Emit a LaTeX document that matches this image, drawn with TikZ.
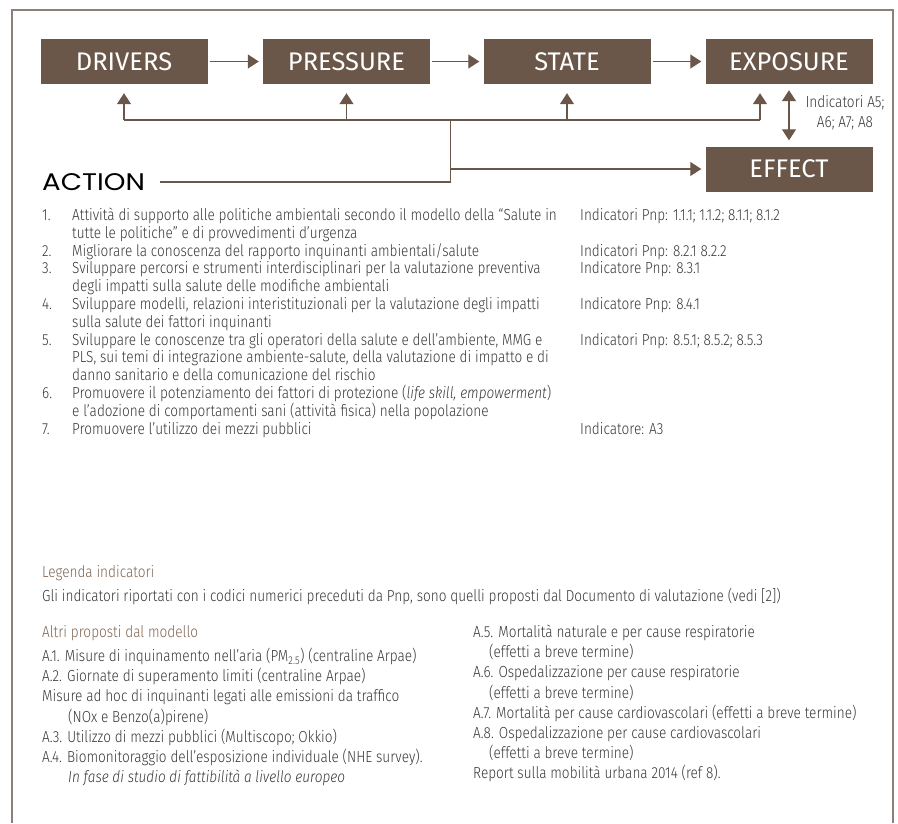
\documentclass[tikz,border=0pt]{standalone}
\usepackage{fontspec}
\setmainfont[FakeStretch=0.85, UprightFont=* Light, ItalicFont=* Light Italic]{Fira Sans}
\newfontfamily\boxfont{Fira Sans}
\newfontfamily\actionfont[FakeStretch=1.15]{Poppins}
\usepackage{tikz}
\usetikzlibrary{arrows.meta}
\usetikzlibrary{calc}
\usetikzlibrary{positioning}

\definecolor{dpsirbrown}{RGB}{106,87,73}
\definecolor{framegray}{RGB}{140,128,120}
\definecolor{headbrown}{RGB}{128,100,82}
\definecolor{textgray}{RGB}{55,55,55}

\tikzset{
  dbox/.style={fill=dpsirbrown, text=white, minimum width=167pt, minimum height=45pt,
    inner sep=0pt, font=\boxfont\fontsize{25.5}{25.5}\selectfont},
  link/.style={draw=dpsirbrown, line width=1.3pt},
  body/.style={anchor=base west, inner sep=0pt, text=textgray, align=left,
    font=\fontsize{16}{17.8}\selectfont},
  legend/.style={body, font=\fontsize{16}{20.2}\selectfont},
  head/.style={legend, text=headbrown}
}

\begin{document}
\begin{tikzpicture}[x=1pt,y=-1pt,>={Triangle[length=11pt,width=14pt]}]
      \useasboundingbox (0,0) rectangle (898,823);
      \draw[framegray, line width=1.5pt] (12,823) -- (12,10) -- (893,10) -- (893,823);

      % DPSEEA chain
      \node[dbox] (drivers) at (124,61.5) {DRIVERS};
      \node[dbox] (pressure) at (346.5,61.5) {PRESSURE};
      \node[dbox] (state) at (567,61.5) {STATE};
      \node[dbox] (exposure) at (789,61.5) {EXPOSURE};
      \node[dbox] (effect) at (789,169) {EFFECT};
      \node[anchor=base west, inner sep=0pt, font=\actionfont\fontsize{24}{24}\selectfont] (action) at (42,190.5) {ACTION};

      \draw[link,->,shorten <=2pt,shorten >=4pt] (drivers) -- (pressure);
      \draw[link,->,shorten <=2pt,shorten >=4pt] (pressure) -- (state);
      \draw[link,->,shorten <=2pt,shorten >=4pt] (state) -- (exposure);

      \coordinate (hub) at (450.5,120);
      \coordinate (join) at (hub |- action.east);
      \coordinate (split) at (hub |- effect.west);
      \coordinate (expin) at ($(exposure.south)+(-29,0)$);

      \draw[link] (drivers.south |- hub) -- (expin |- hub);
      \draw[link,->,shorten >=9pt] (drivers.south |- hub) -- (drivers.south);
      \draw[link,->,shorten >=9pt] (pressure.south |- hub) -- (pressure.south);
      \draw[link,->,shorten >=9pt] (state.south |- hub) -- (state.south);
      \draw[link,->,shorten >=9pt] (expin |- hub) -- (expin);
      \draw[link] (hub) -- (join);
      \draw[link,shorten <=15pt] (action.east) -- (join);
      \draw[link,->,shorten >=4pt] (split) -- (effect.west);
      \draw[link,<->,shorten <=6pt,shorten >=6pt] (exposure.south) -- (effect.north);
      \node[inner sep=0pt, align=center, text=textgray, font=\fontsize{16}{20}\selectfont] (indA) at (845,113) {Indicatori A5;\\A6; A7; A8};

      % actions (multi-line nodes sit on their last line)
      \node[body] (n1) at (42,220.5) {1.};
      \node[body] (t1) at (72,238.3) {Attività di supporto alle politiche ambientali secondo il modello della “Salute in\\tutte le politiche” e di provvedimenti d’urgenza};
      \node[body] (i1) at (580,220.5) {Indicatori Pnp: 1.1.1; 1.1.2; 8.1.1; 8.1.2};
      \node[body] (n2) at (42,256.1) {2.};
      \node[body] (t2) at (72,256.1) {Migliorare la conoscenza del rapporto inquinanti ambientali/salute};
      \node[body] (i2) at (580,256.1) {Indicatori Pnp: 8.2.1 8.2.2};
      \node[body] (n3) at (42,273.9) {3.};
      \node[body] (t3) at (72,291.7) {Sviluppare percorsi e strumenti interdisciplinari per la valutazione preventiva\\degli impatti sulla salute delle modifiche ambientali};
      \node[body] (i3) at (580,273.9) {Indicatore Pnp: 8.3.1};
      \node[body] (n4) at (42,309.5) {4.};
      \node[body] (t4) at (72,327.3) {Sviluppare modelli, relazioni interistituzionali per la valutazione degli impatti\\sulla salute dei fattori inquinanti};
      \node[body] (i4) at (580,309.5) {Indicatore Pnp: 8.4.1};
      \node[body] (n5) at (42,345.1) {5.};
      \node[body] (t5) at (72,380.7) {Sviluppare le conoscenze tra gli operatori della salute e dell’ambiente, MMG e\\PLS, sui temi di integrazione ambiente-salute, della valutazione di impatto e di\\danno sanitario e della comunicazione del rischio};
      \node[body] (i5) at (580,345.1) {Indicatori Pnp: 8.5.1; 8.5.2; 8.5.3};
      \node[body] (n6) at (42,398.5) {6.};
      \node[body] (t6) at (72,416.3) {Promuovere il potenziamento dei fattori di protezione (\textit{life skill, empowerment})\\e l’adozione di comportamenti sani (attività fisica) nella popolazione};
      \node[body] (n7) at (42,434.1) {7.};
      \node[body] (t7) at (72,434.1) {Promuovere l’utilizzo dei mezzi pubblici};
      \node[body] (i7) at (580,434.1) {Indicatore: A3};

      % legenda
      \node[head] (leg) at (42,577.5) {Legenda indicatori};
      \node[legend] (legtxt) at (42,601.5) {Gli indicatori riportati con i codici numerici preceduti da Pnp, sono quelli proposti dal Documento di valutazione (vedi [2])};
      \node[head] (altri) at (42,637.5) {Altri proposti dal modello};
      \node[legend] (colA) at (42,782.7) {A.1. Misure di inquinamento nell’aria (PM\textsubscript{2.5}) (centraline Arpae)\\A.2. Giornate di superamento limiti (centraline Arpae)\\Misure ad hoc di inquinanti legati alle emissioni da traffico\\\hspace*{26pt}(NOx e Benzo(a)pirene)\\A.3. Utilizzo di mezzi pubblici (Multiscopo; Okkio)\\A.4. Biomonitoraggio dell’esposizione individuale (NHE survey).\\\hspace*{26pt}\textit{In fase di studio di fattibilità a livello europeo}};
      \node[legend] (colB) at (473,778.9) {A.5. Mortalità naturale e per cause respiratorie\\\hspace*{16pt}(effetti a breve termine)\\A.6. Ospedalizzazione per cause respiratorie\\\hspace*{16pt}(effetti a breve termine)\\A.7. Mortalità per cause cardiovascolari (effetti a breve termine)\\A.8. Ospedalizzazione per cause cardiovascolari\\\hspace*{16pt}(effetti a breve termine)\\Report sulla mobilità urbana 2014 (ref 8).};
\end{tikzpicture}
\end{document}
